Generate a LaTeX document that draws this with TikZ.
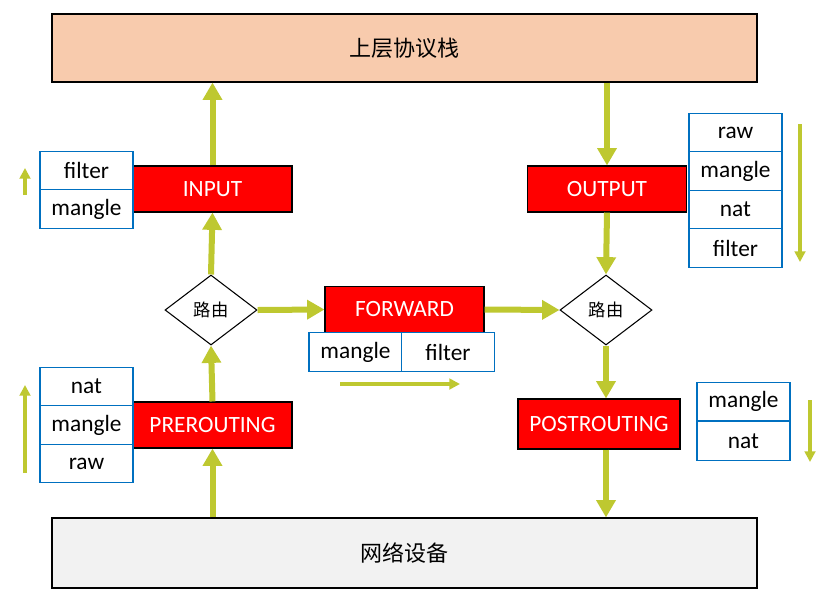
\documentclass[tikz,border=0pt]{standalone}
\usepackage{fontspec}
\setmainfont{Carlito}
\newfontfamily\cjk{Noto Sans CJK SC}
\usetikzlibrary{arrows.meta,shapes.geometric}
\definecolor{ag}{RGB}{190,200,48}
\definecolor{tb}{RGB}{0,112,192}
\definecolor{peach}{RGB}{248,203,173}
\definecolor{lg}{RGB}{242,242,242}
\begin{document}
\begin{tikzpicture}[x=0.75pt,y=-0.75pt,
 big/.style={draw=black,line width=0.8pt,minimum width=528.75pt,minimum height=51pt,font=\cjk\fontsize{16.5}{18}\selectfont},
 chain/.style={draw=black,line width=0.8pt,fill=red,text=white,minimum width=119.25pt,minimum height=34.5pt,inner sep=0pt,font=\fontsize{17.5}{19}\selectfont},
 tab/.style={draw=tb,line width=0.8pt,fill=white,minimum width=69.75pt,minimum height=29pt,inner sep=0pt,font=\fontsize{17.5}{19}\selectfont},
 dia/.style={diamond,draw=black,line width=0.8pt,fill=white,minimum width=69pt,minimum height=52.5pt,inner sep=0pt,aspect=1.3,font=\cjk\fontsize{13}{15}\selectfont},
 fat/.style={draw=ag,line width=4.5pt,-{Triangle[length=13pt,width=14pt]}},
 thin/.style={draw=ag,line width=2.4pt,-{Triangle[length=8pt,width=8pt]}}]
\useasboundingbox (0,0) rectangle (833,594);
\node[big,fill=peach] (top) at (404.5,48) {上层协议栈};
\node[big,fill=lg,minimum height=52.5pt] (bot) at (404.5,553) {网络设备};
\node[chain] (in) at (212.5,189) {INPUT};
\node[chain] (out) at (607,189) {OUTPUT};
\node[chain] (fw) at (404.5,309.5) {FORWARD};
\node[chain] (pre) at (212.5,425) {PREROUTING};
\node[chain,minimum width=121.5pt,minimum height=37.5pt] (post) at (599,424) {POSTROUTING};
\node[dia] (d1) at (211,310) {路由};
\node[dia] (d2) at (606,310) {路由};
% tables
\node[tab] (if) at (86.5,170.5) {filter};
\node[tab] (im) at (86.5,209) {mangle};
\node[tab] (or) at (735.5,133) {raw};
\node[tab] (om) at (735.5,171) {mangle};
\node[tab] (on) at (735.5,209.5) {nat};
\node[tab] (of) at (735.5,248) {filter};
\node[tab] (fm) at (355.5,352) {mangle};
\node[tab] (ff) at (448,352) {filter};
\node[tab] (pn) at (86.5,386.5) {nat};
\node[tab] (pm) at (86.5,425) {mangle};
\node[tab] (pr) at (86.5,463.5) {raw};
\node[tab] (qm) at (743.5,401.5) {mangle};
\node[tab] (qn) at (743.5,441) {nat};
% fat arrows
\draw[fat] (bot.north -| pre) -- (pre.south);
\draw[fat] (pre.north) -- (d1.south);
\draw[fat] (d1.north) -- (in.south);
\draw[fat] (in.north) -- (in.north |- top.south);
\draw[fat] (d1.east) -- (fw.west);
\draw[fat] (fw.east) -- (d2.west);
\draw[fat] (top.south -| out) -- (out.north);
\draw[fat] (out.south) -- (d2.north);
\draw[fat] (d2.south) -- (d2.south |- post.north);
\draw[fat] (d2.south |- post.south) -- (d2.south |- bot.north);
% thin arrows
\coordinate (a1) at (25,195); \coordinate (a2) at (25,168);
\coordinate (b1) at (25,473); \coordinate (b2) at (25,385);
\coordinate (c1) at (340,384); \coordinate (c2) at (460,384);
\coordinate (e1) at (800,124); \coordinate (e2) at (800,262);
\coordinate (f1) at (810,400); \coordinate (f2) at (810,462);
\draw[thin] (a1) -- (a2);
\draw[thin] (b1) -- (b2);
\draw[thin] (c1) -- (c2);
\draw[thin] (e1) -- (e2);
\draw[thin] (f1) -- (f2);
\end{tikzpicture}
\end{document}
